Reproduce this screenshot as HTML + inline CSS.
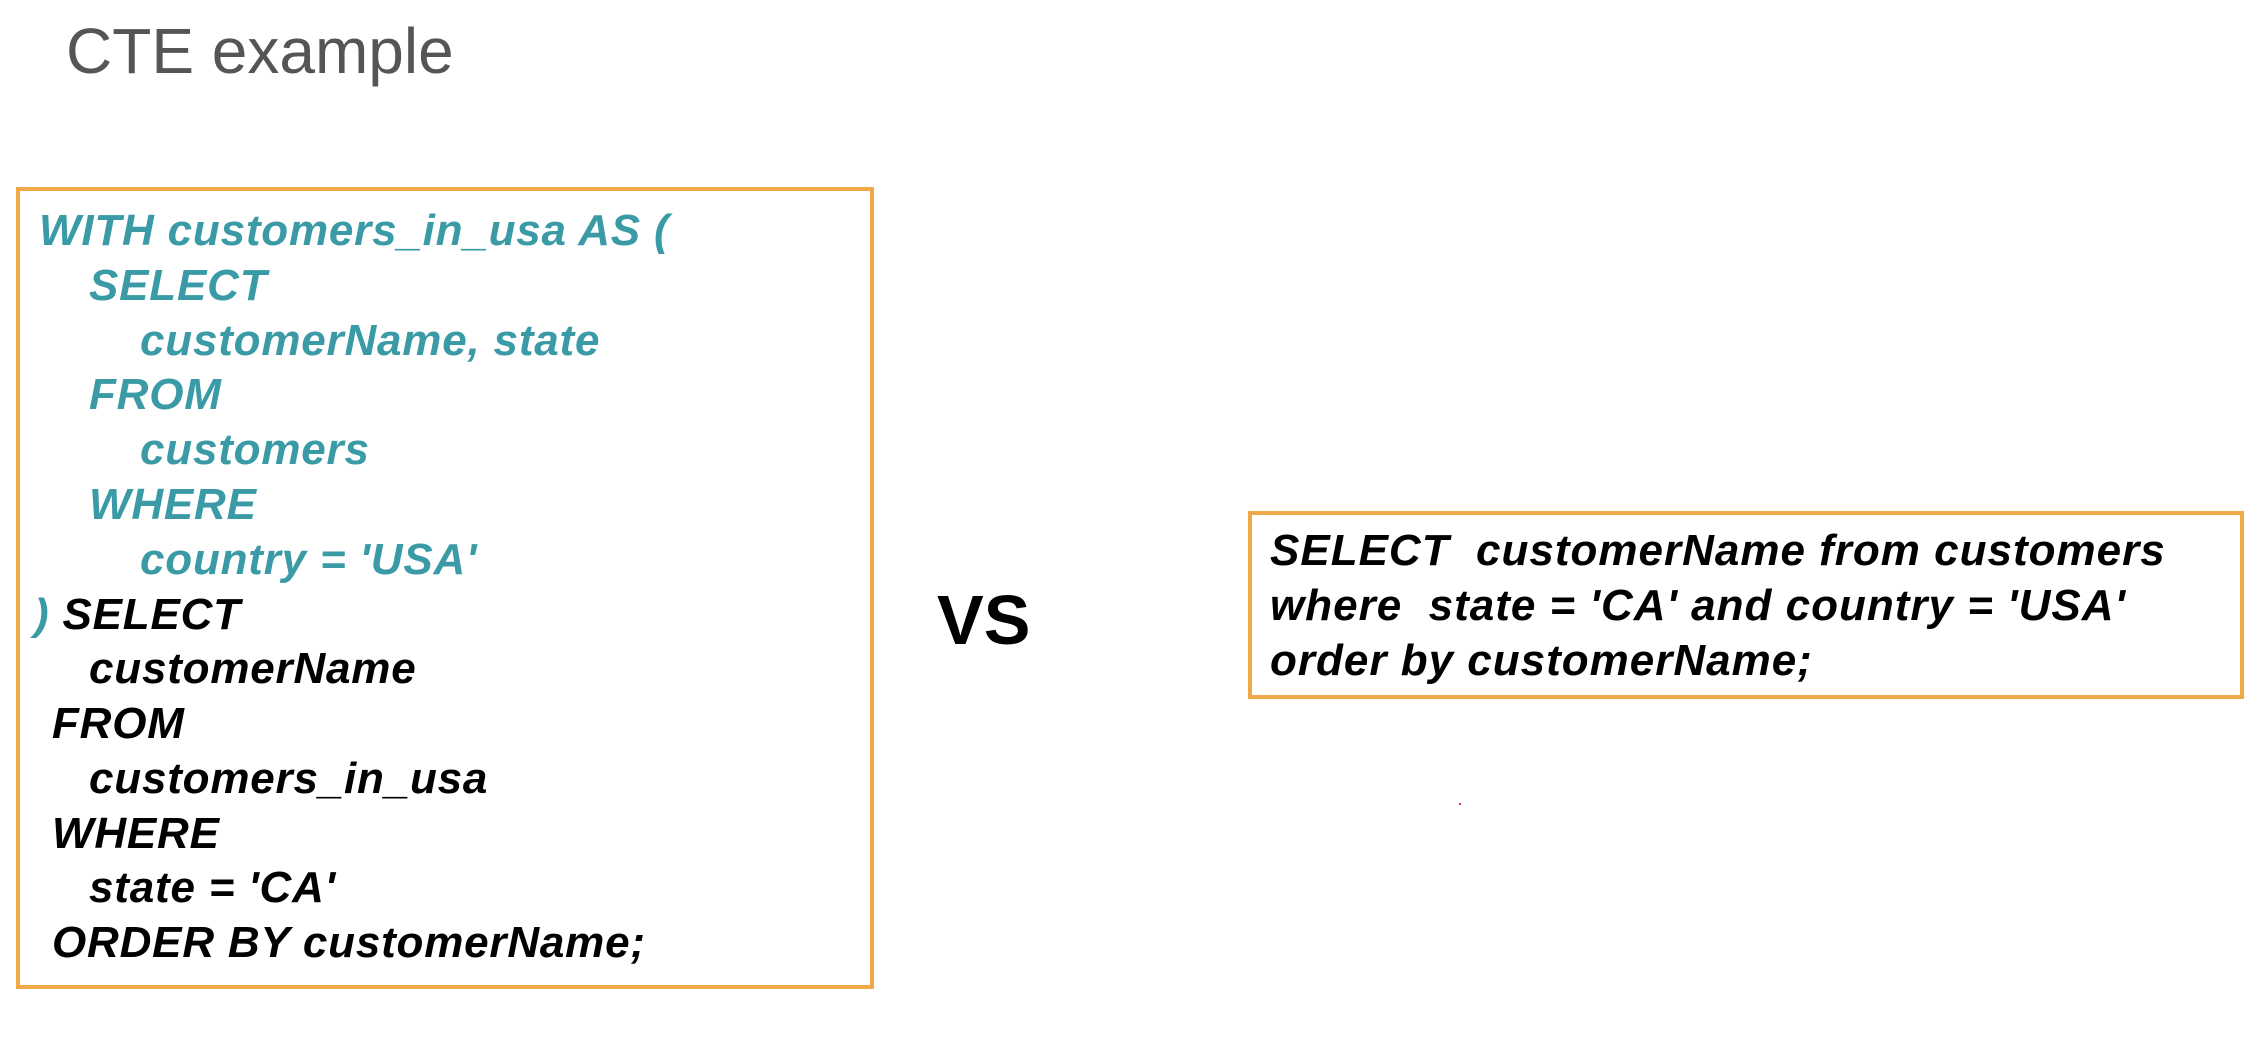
<!DOCTYPE html>
<html><head><meta charset="utf-8"><style>
body{margin:0;width:2262px;height:1042px;background:#fff;position:relative;overflow:hidden;font-family:"Liberation Sans",Arial,sans-serif}
.t{position:absolute;left:66px;top:14px;font-size:64px;color:#555;}
.box{position:absolute;border:4px solid #f0a848;box-sizing:border-box}
.l{position:absolute;font-weight:bold;font-style:italic;font-size:44px;letter-spacing:0.8px;white-space:pre;line-height:54px}
.c{color:#3a9aa5}.k{color:#000}
.vs{position:absolute;left:937px;top:580px;font-size:70px;font-weight:bold;color:#000}
.r{position:absolute;left:1270px;font-weight:bold;font-style:italic;font-size:44px;letter-spacing:1px;white-space:pre;line-height:54px;color:#000}
</style></head><body>
<div class="t">CTE example</div>
<div class="box" style="left:16px;top:187px;width:858px;height:802px"></div>
<div class="l c" style="left:39px;top:204px">WITH customers_in_usa AS (</div>
<div class="l c" style="left:89px;top:259px">SELECT</div>
<div class="l c" style="left:140px;top:314px">customerName, state</div>
<div class="l c" style="left:89px;top:368px">FROM</div>
<div class="l c" style="left:140px;top:423px">customers</div>
<div class="l c" style="left:89px;top:478px">WHERE</div>
<div class="l c" style="left:140px;top:533px">country = 'USA'</div>
<div class="l" style="left:34px;top:588px"><span class="c">)</span><span class="k"> SELECT</span></div>
<div class="l k" style="left:89px;top:642px">customerName</div>
<div class="l k" style="left:52px;top:697px">FROM</div>
<div class="l k" style="left:89px;top:752px">customers_in_usa</div>
<div class="l k" style="left:52px;top:807px">WHERE</div>
<div class="l k" style="left:89px;top:861px">state = 'CA'</div>
<div class="l k" style="left:52px;top:916px">ORDER BY customerName;</div>
<div class="vs">VS</div>
<div class="box" style="left:1248px;top:511px;width:996px;height:188px"></div>
<div class="r" style="top:524px">SELECT  customerName from customers</div>
<div class="r" style="top:579px">where  state = 'CA' and country = 'USA'</div>
<div class="r" style="top:634px">order by customerName;</div>
<div style="position:absolute;left:1459px;top:803px;width:2px;height:2px;background:#d33"></div>
</body></html>
